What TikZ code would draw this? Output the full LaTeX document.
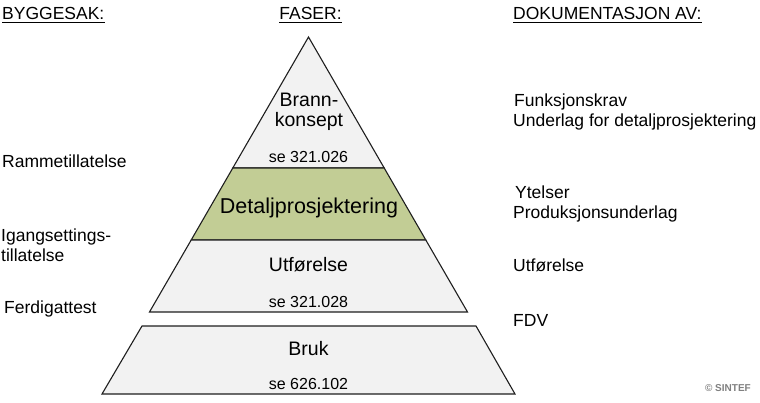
\documentclass[tikz,border=0pt]{standalone}
\usepackage{fontspec}
\setmainfont{Liberation Sans}
\usetikzlibrary {positioning}
\definecolor{bandgray}{HTML}{F2F2F2}
\definecolor{bandgreen}{HTML}{C2CD95}
\definecolor{edgegray}{HTML}{1E1E1E}
\tikzset{
headA/.style={anchor=base west,inner sep=0pt,font=\fontsize{17.5}{20}\selectfont}
}
\tikzset{
sideA/.style={anchor=base west,inner sep=0pt,font=\fontsize{17.5}{20}\selectfont}
}
\tikzset{
faseA/.style={anchor=base,inner sep=0pt,font=\fontsize{19.5}{21}\selectfont}
}
\tikzset{
refA/.style={anchor=base,inner sep=0pt,font=\fontsize{16}{18}\selectfont}
}
\tikzset{
bandA/.style={fill=bandgray,draw=edgegray,line width=1.1pt,line join=miter}
}

\begin{document}
\begin{tikzpicture}[x=1pt,y=-1pt,bandB/.style={bandA,fill=bandgreen},uline/.style={line width=1pt}]
\useasboundingbox (0,0) rectangle (760,403);

%------------------------------------------------------------------------------------------------------------%
% pyramide
\draw[bandA] (308.5,37) -- (384.2,168) -- (232.8,168) -- cycle;
\draw[bandB] (232.8,168) -- (384.2,168) -- (425.8,240) -- (191.2,240) -- cycle;
\draw[bandA] (191.2,240) -- (425.8,240) -- (467.5,312) -- (149.5,312) -- cycle;
\draw[bandA] (142,326) -- (476,326) -- (515,394) -- (102,394) -- cycle;

\node[faseA] (F1) at (309,107) {Brann-};
\node[faseA] (F2) at (309,127) {konsept};
\node[refA] (R1) at (308.5,163) {se 321.026};
\node[faseA,font=\fontsize{21.5}{23}\selectfont] (F3) at (309,213.5) {Detaljprosjektering};
\node[faseA] (F4) at (308.5,272) {Utførelse};
\node[refA] (R2) at (308.5,307) {se 321.028};
\node[faseA] (F5) at (308.5,355.5) {Bruk};
\node[refA] (R3) at (308.5,389) {se 626.102};

%------------------------------------------------------------------------------------------------------------%
% overskrifter
\node[headA] (H1) at (2,20) {BYGGESAK:};
\node[headA,anchor=base] (H2) at (310.5,20) {FASER:};
\node[headA] (H3) at (513,20) {DOKUMENTASJON AV:};
\foreach \h in {H1,H2,H3}
{
\draw[uline] ([yshift=-3pt]\h.base west) -- ([yshift=-3pt]\h.base east);
}

%------------------------------------------------------------------------------------------------------------%
% byggesak
\node[sideA] (B1) at (2,168) {Rammetillatelse};
\node[sideA] (B2) at (1,242) {Igangsettings-};
\node[sideA] (B3) at (1,261.5) {tillatelse};
\node[sideA] (B4) at (4,313) {Ferdigattest};

% dokumentasjon
\node[sideA] (D1) at (514,107) {Funksjonskrav};
\node[sideA] (D2) at (513,127) {Underlag for detaljprosjektering};
\node[sideA] (D3) at (515,198.5) {Ytelser};
\node[sideA] (D4) at (513,219) {Produksjonsunderlag};
\node[sideA] (D5) at (513,272) {Utførelse};
\node[sideA] (D6) at (513,326) {FDV};

\node[anchor=base east,inner sep=0pt,text=gray,font=\fontsize{10}{12}\selectfont\bfseries] (S1) at (751,391) {© SINTEF};
%\draw (D6.east) -- ++(1,0);

\end{tikzpicture}
\end{document}
